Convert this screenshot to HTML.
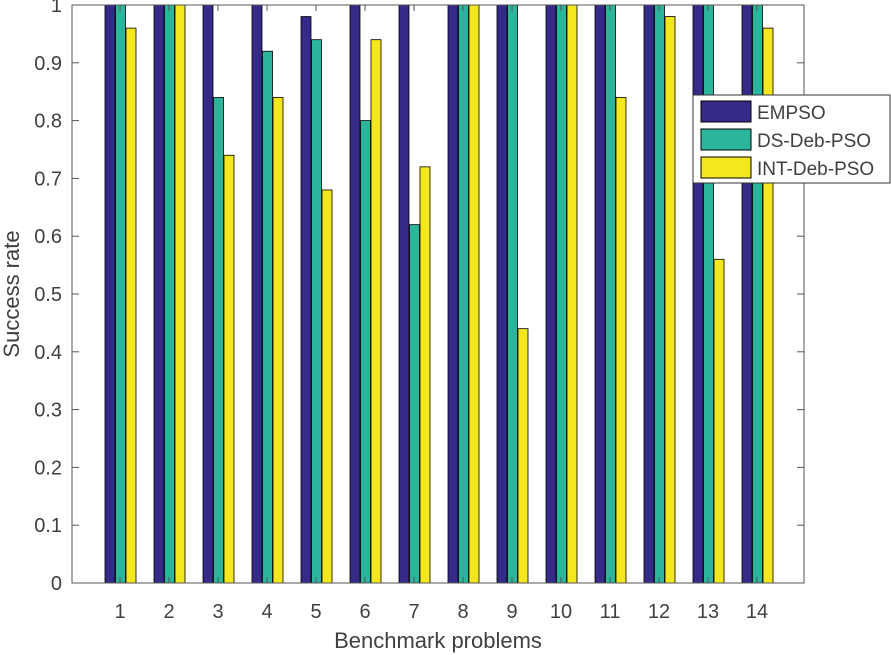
<!DOCTYPE html>
<html><head><meta charset="utf-8"><style>body{margin:0;background:#fff}svg{display:block}text{font-family:"Liberation Sans",Arial,sans-serif;fill:#404040}</style></head>
<body>
<svg width="891" height="655" xmlns="http://www.w3.org/2000/svg">
<g id="bars" stroke="#000" stroke-width="0.8"></g>
<rect x="72" y="5" width="732" height="578" fill="none" stroke="#555" stroke-width="1"/>
<g id="ticks" stroke="#555" stroke-width="1"></g>
<g id="labels" font-size="20"></g>
<text x="438" y="648" font-size="22" text-anchor="middle">Benchmark problems</text>
<text transform="translate(19,294) rotate(-90)" font-size="22" text-anchor="middle">Success rate</text>
<g>
<rect x="693" y="95" width="197" height="88" fill="#fff" stroke="#333" stroke-width="1"/>
<rect x="701" y="101" width="50" height="21" fill="#352a87" stroke="#000"/>
<rect x="701" y="129" width="50" height="21" fill="#2ab59c" stroke="#000"/>
<rect x="701" y="157" width="50" height="21" fill="#f5e71d" stroke="#000"/>
<text x="757" y="119" font-size="19" fill="#222">EMPSO</text>
<text x="757" y="147" font-size="19" fill="#222">DS-Deb-PSO</text>
<text x="757" y="175" font-size="19" fill="#222">INT-Deb-PSO</text>
</g>
<script>
var E=[1,1,1,1,.98,1,1,1,1,1,1,1,1,1],D=[1,1,.84,.92,.94,.80,.62,1,1,1,1,1,1,1],I=[.96,1,.74,.84,.68,.94,.72,1,.44,1,.84,.98,.56,.96];
var ns="http://www.w3.org/2000/svg",b=document.getElementById('bars'),t=document.getElementById('ticks'),l=document.getElementById('labels');
function el(p,n,a,tx){var e=document.createElementNS(ns,n);for(var k in a)e.setAttribute(k,a[k]);if(tx!=null)e.textContent=tx;p.appendChild(e);}
function Y(v){return 583-578*v;}
var cols=['#352a87','#2ab59c','#f5e71d'],data=[E,D,I],off=[-15,-4.5,6];
for(var i=0;i<14;i++){var cx=71+49*(i+1);
for(var s=0;s<3;s++){var v=data[s][i];el(b,'rect',{x:cx+off[s],y:Y(v),width:10,height:578*v,fill:cols[s]});}
el(t,'line',{x1:cx,x2:cx,y1:583,y2:577});el(t,'line',{x1:cx,x2:cx,y1:5,y2:11});
el(l,'text',{x:cx,y:618,'text-anchor':'middle'},String(i+1));}
for(var k=0;k<=10;k++){var y=Y(k/10);el(t,'line',{x1:72,x2:79,y1:y,y2:y});el(t,'line',{x1:804,x2:797,y1:y,y2:y});
el(l,'text',{x:62,y:y+7,'text-anchor':'end'},k==0?'0':k==10?'1':(k/10).toFixed(1));}
</script>
</svg>
</body></html>
